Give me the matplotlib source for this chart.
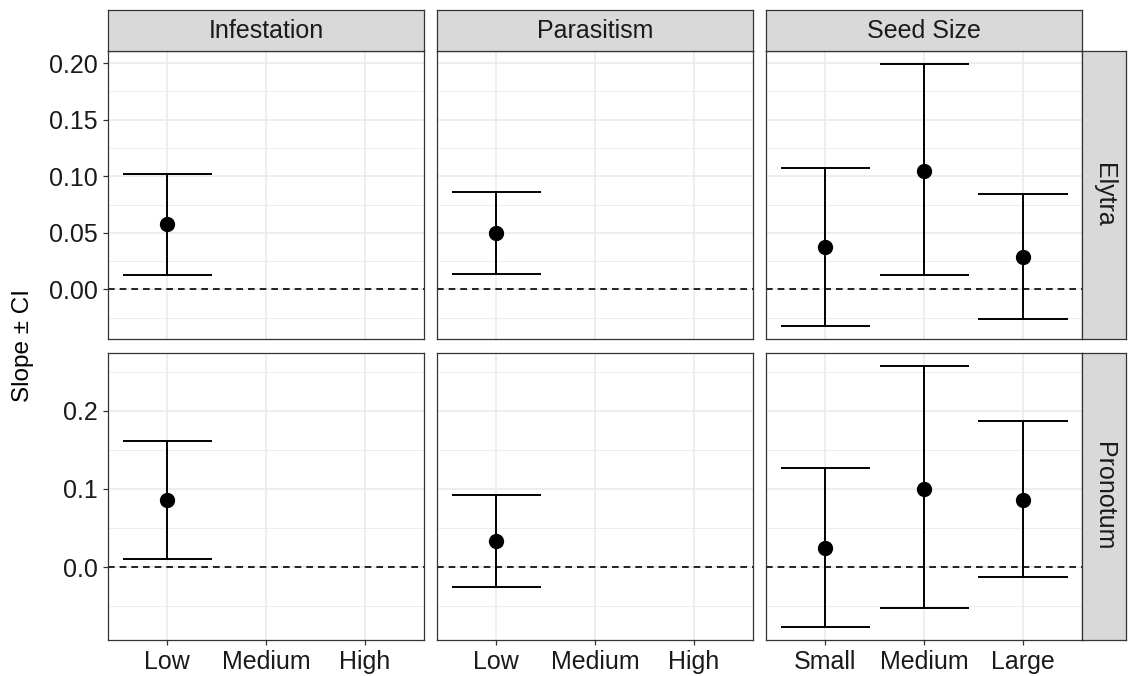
import matplotlib
matplotlib.use("Agg")
import matplotlib.pyplot as plt
from matplotlib.ticker import MultipleLocator, FormatStrFormatter

plt.rcParams['font.family'] = ['Liberation Sans', 'DejaVu Sans']

# facets
columns = ['Infestation', 'Parasitism', 'Seed Size']
rows = ['Elytra', 'Pronotum']

level_cats = ['Low', 'Medium', 'High']
seed_cats = ['Small', 'Medium', 'Large']

# Elytra
ely_infest_est = [0.058]
ely_infest_lo = [0.013]
ely_infest_hi = [0.102]
ely_paras_est = [0.050]
ely_paras_lo = [0.014]
ely_paras_hi = [0.0865]
ely_seed_est = [0.0375, 0.1047, 0.029]
ely_seed_lo = [-0.0325, 0.0129, -0.0258]
ely_seed_hi = [0.1076, 0.1988, 0.0844]

# Pronotum
pro_infest_est = [0.0854]
pro_infest_lo = [0.0109]
pro_infest_hi = [0.1607]
pro_paras_est = [0.0334]
pro_paras_lo = [-0.0254]
pro_paras_hi = [0.0921]
pro_seed_est = [0.0249, 0.1002, 0.0854]
pro_seed_lo = [-0.0766, -0.052, -0.0132]
pro_seed_hi = [0.1273, 0.2576, 0.1873]

panels = [
    [(level_cats, ely_infest_est, ely_infest_lo, ely_infest_hi),
     (level_cats, ely_paras_est, ely_paras_lo, ely_paras_hi),
     (seed_cats, ely_seed_est, ely_seed_lo, ely_seed_hi)],
    [(level_cats, pro_infest_est, pro_infest_lo, pro_infest_hi),
     (level_cats, pro_paras_est, pro_paras_lo, pro_paras_hi),
     (seed_cats, pro_seed_est, pro_seed_lo, pro_seed_hi)],
]

W, H = 1128, 676
fig = plt.figure(figsize=(W / 100, H / 100), dpi=100)

col_x = [107.7, 436.7, 765.7]
col_w = 316.7
row_y = [(51.3, 339.3), (352.7, 640.0)]
strip_top = 9.7
strip_right = 1125.7

grid_col = '#EBEBEB'
border_col = '#333333'
strip_fill = '#D9D9D9'
txt_col = '#1A1A1A'
fs = 18


def fx(px):
    return px / W


def fy(py):
    return 1 - py / H


def style_box(a):
    for s in a.spines.values():
        s.set_color(border_col)
        s.set_linewidth(0.9)


for r, row in enumerate(panels):
    # shared y range per row, ggplot-style 5% expansion
    lo_all = min(min(p[2]) for p in row)
    hi_all = max(max(p[3]) for p in row)
    span = hi_all - lo_all
    ylim = (lo_all - 0.05 * span, hi_all + 0.05 * span)
    y0, y1 = row_y[r]
    for c, (cats, est, lo, hi) in enumerate(row):
        ax = fig.add_axes([fx(col_x[c]), fy(y1), col_w / W, (y1 - y0) / H])
        xs = list(range(len(est)))
        ax.set_xlim(-0.6, len(cats) - 0.4)
        ax.set_ylim(*ylim)
        ax.set_xticks(range(len(cats)))
        ax.set_xticklabels(cats)
        if r == 0:
            ax.yaxis.set_major_locator(MultipleLocator(0.05))
            ax.yaxis.set_minor_locator(MultipleLocator(0.025))
            ax.yaxis.set_major_formatter(FormatStrFormatter('%.2f'))
        else:
            ax.yaxis.set_major_locator(MultipleLocator(0.1))
            ax.yaxis.set_minor_locator(MultipleLocator(0.05))
            ax.yaxis.set_major_formatter(FormatStrFormatter('%.1f'))
        ax.tick_params(axis='both', which='major', length=3.6, width=0.9,
                       color=border_col, labelsize=fs, labelcolor=txt_col, pad=3.5)
        ax.tick_params(axis='y', which='minor', length=0)
        if c > 0:
            ax.tick_params(axis='y', which='both', left=False, labelleft=False)
        if r == 0:
            ax.tick_params(axis='x', bottom=False, labelbottom=False)
        ax.grid(True, which='major', color=grid_col, lw=1.2, zorder=0)
        ax.grid(True, which='minor', axis='y', color=grid_col, lw=0.6, zorder=0)
        ax.set_axisbelow(True)
        style_box(ax)

        ax.axhline(0, color='black', lw=1.2, ls=(0, (4, 3)), zorder=2)
        ax.vlines(xs, lo, hi, color='black', lw=1.4, zorder=3)
        ax.hlines(lo, [x - 0.45 for x in xs], [x + 0.45 for x in xs], color='black', lw=1.4, zorder=3)
        ax.hlines(hi, [x - 0.45 for x in xs], [x + 0.45 for x in xs], color='black', lw=1.4, zorder=3)
        ax.plot(xs, est, 'o', color='black', ms=10, zorder=4)

        # column strips on top
        if r == 0:
            sax = fig.add_axes([fx(col_x[c]), fy(y0), col_w / W, (y0 - strip_top) / H])
            sax.set_xticks([])
            sax.set_yticks([])
            sax.set_facecolor(strip_fill)
            style_box(sax)
            sax.text(0.5, 0.5, columns[c], ha='center', va='center',
                     fontsize=fs, color=txt_col, transform=sax.transAxes)

    # row strips on the right
    x_left = col_x[2] + col_w
    rax = fig.add_axes([fx(x_left), fy(y1), (strip_right - x_left) / W, (y1 - y0) / H])
    rax.set_xticks([])
    rax.set_yticks([])
    rax.set_facecolor(strip_fill)
    style_box(rax)
    rax.text(0.5, 0.5, rows[r], ha='center', va='center', rotation=-90,
             fontsize=fs, color=txt_col, transform=rax.transAxes)

fig.text(fx(23), fy(345.5), 'Slope ± CI', rotation=90, ha='center', va='center',
         fontsize=17.5, color='black')

fig.savefig('out.png', dpi=100)
